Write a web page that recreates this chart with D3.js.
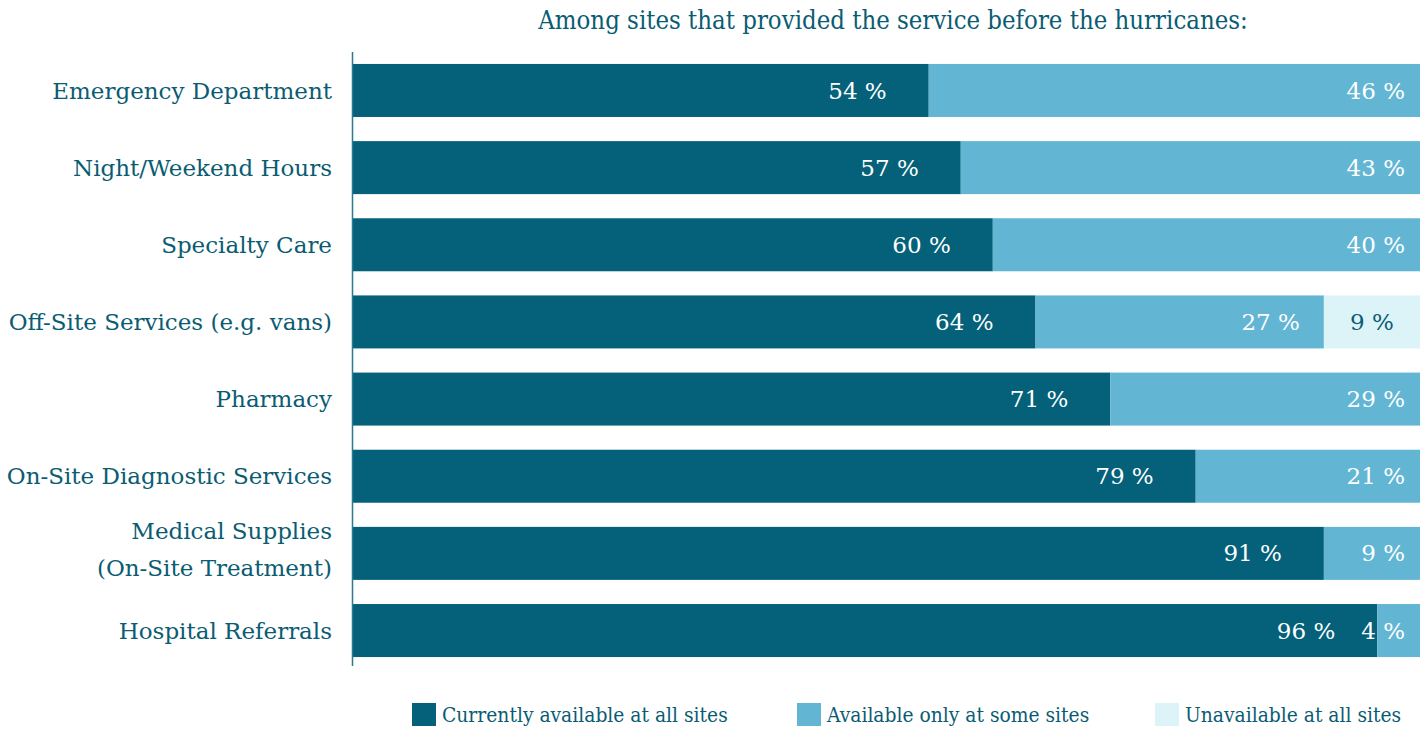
<!DOCTYPE html>
<html>
<head>
<meta charset="utf-8">
<script src="https://cdn.jsdelivr.net/npm/d3@7"></script>
<style>
  body { margin: 0; background: #fff; }
  text { font-family: "DejaVu Serif", serif; }
</style>
</head>
<body>
<svg width="1428" height="730"></svg>
<script>
var categories = ["Emergency Department", "Night/Weekend Hours", "Specialty Care",
    "Off-Site Services (e.g. vans)", "Pharmacy", "On-Site Diagnostic Services",
    "Medical Supplies\n(On-Site Treatment)", "Hospital Referrals"];
var allSites = [54, 57, 60, 64, 71, 79, 91, 96];
var someSites = [46, 43, 40, 27, 29, 21, 9, 4];
var noSites = [0, 0, 0, 9, 0, 0, 0, 0];
var seriesNames = ["Currently available at all sites", "Available only at some sites", "Unavailable at all sites"];
var colors = ["#05617a", "#62b6d4", "#dcf3f8"];
var labelColors = ["#fff", "#fff", "#0a5c73"];

var svg = d3.select("svg"),
    textColor = "#0a5c73";

var x = d3.scaleLinear().domain([0, 100]).range([352, 1420]);
var y = d3.scaleBand().domain(categories).range([52, 669]).paddingInner(0.313).paddingOuter(0.155);

var rows = categories.map(function (c, i) {
    return { cat: c, all: allSites[i], some: someSites[i], none: noSites[i] };
});
var stack = d3.stack().keys(["all", "some", "none"])(rows);

// title
svg.append("text")
    .attr("x", 893).attr("y", 29)
    .attr("text-anchor", "middle")
    .attr("fill", textColor)
    .style("font-size", "25.5px")
    .style("font-stretch", "condensed")
    .text("Among sites that provided the service before the hurricanes:");

// bars
stack.forEach(function (s, k) {
    var g = svg.append("g");
    g.selectAll("rect").data(s).enter().append("rect")
        .attr("x", function (d) { return x(d[0]); })
        .attr("y", function (d) { return y(d.data.cat); })
        .attr("width", function (d) { return x(d[1]) - x(d[0]); })
        .attr("height", y.bandwidth())
        .attr("fill", colors[k]);

    g.selectAll("text").data(s.filter(function (d) { return d[1] > d[0]; })).enter().append("text")
        .attr("x", function (d) {
            if (k == 2) return (x(d[0]) + x(d[1])) / 2;
            var last = d[1] >= 100;
            return x(d[1]) - (k == 0 ? 42 : (last ? 15 : 24));
        })
        .attr("y", function (d) { return y(d.data.cat) + y.bandwidth() / 2; })
        .attr("dy", "0.35em")
        .attr("text-anchor", k == 2 ? "middle" : "end")
        .attr("fill", labelColors[k])
        .style("font-size", "23px")
        .text(function (d) { return (d[1] - d[0]) + " %"; });
});

// axis line
svg.append("line")
    .attr("x1", 352.5).attr("x2", 352.5)
    .attr("y1", 52).attr("y2", 666)
    .attr("stroke", "#2a7a90").attr("stroke-width", 1.5);

// category labels
var labels = svg.append("g").selectAll("text").data(categories).enter().append("text")
    .attr("x", 332)
    .attr("text-anchor", "end")
    .attr("fill", textColor)
    .style("font-size", "23px")
    .attr("transform", function (d) {
        var n = d.split("\n").length;
        return "translate(0," + (y(d) + y.bandwidth() / 2 - (n - 1) * 22) + ")";
    });
labels.selectAll("tspan").data(function (d) { return d.split("\n"); }).enter().append("tspan")
    .attr("x", 332)
    .attr("dy", function (d, i) { return i == 0 ? "0.35em" : "37px"; })
    .text(function (d) { return d; });

// legend
var legendX = [412, 797, 1155];
var lg = svg.append("g").selectAll("g").data(seriesNames).enter().append("g")
    .attr("transform", function (d, i) { return "translate(" + legendX[i] + ",703)"; });
lg.append("rect").attr("width", 24).attr("height", 23)
    .attr("fill", function (d, i) { return colors[i]; });
lg.append("text").attr("x", 30).attr("y", 19)
    .attr("fill", textColor)
    .style("font-size", "20.8px")
    .style("font-stretch", "condensed")
    .text(function (d) { return d; });
</script>
</body>
</html>
